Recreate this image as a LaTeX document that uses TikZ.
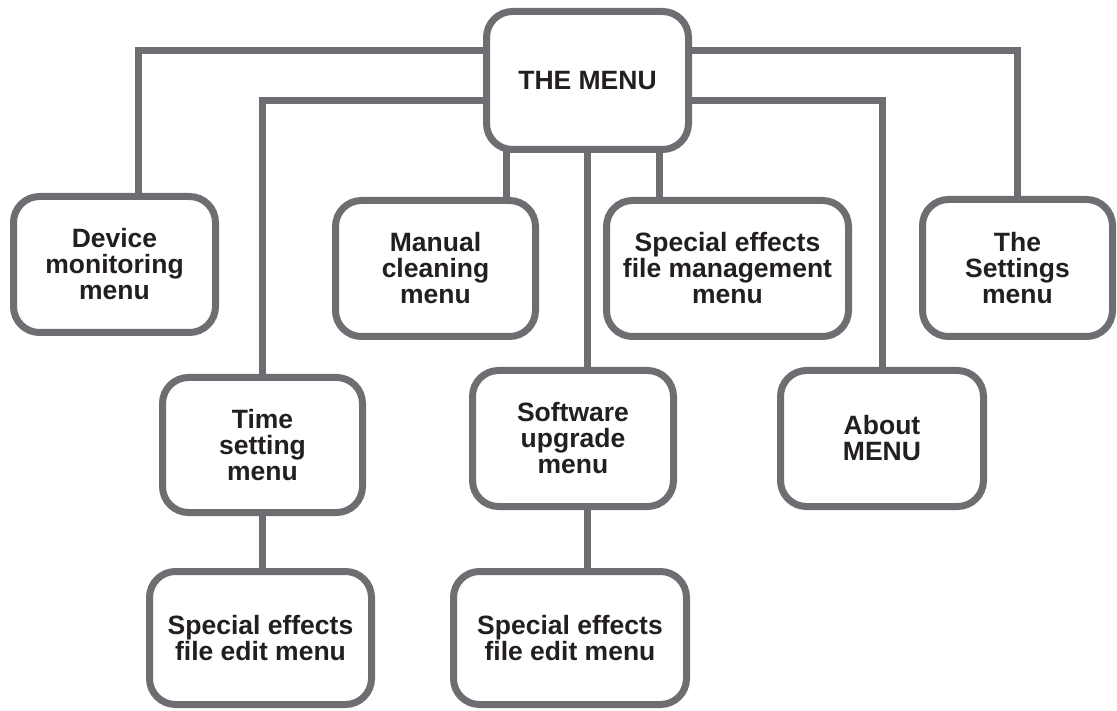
\documentclass[tikz,border=0pt]{standalone}
\usepackage{fontspec}
\setmainfont{Liberation Sans}
\usetikzlibrary{backgrounds}
\definecolor{menugray}{RGB}{109,110,113}
\definecolor{menutext}{RGB}{35,31,32}

\begin{document}
\begin{tikzpicture}[x=1pt,y=-1pt,line width=7pt,text=menutext,
  font=\bfseries\fontsize{26.5}{26}\selectfont,
  link/.style={draw=menugray,line width=7pt}]

\useasboundingbox (0,0) rectangle (1117,711);

\begin{scope}[every node/.style={draw=menugray,fill=white,rounded corners=26pt,align=center,inner sep=0pt,minimum height=136pt}]
  \node[minimum width=202pt,minimum height=138pt] (M) at (587.5,80.5) {THE MENU};
  \node[minimum width=202pt] (D) at (114.5,264.5) {Device\\monitoring\\menu};
  \node[minimum width=200pt] (C) at (435.5,268.5) {Manual\\cleaning\\menu};
  \node[minimum width=242pt] (F) at (727.5,268.5) {Special effects\\file management\\menu};
  \node[minimum width=190pt,minimum height=137pt] (S) at (1017.5,268) {The\\Settings\\menu};
  \node[minimum width=200pt,minimum height=135pt] (T) at (262.5,445) {Time\\setting\\menu};
  \node[minimum width=201pt] (U) at (573,438.5) {Software\\upgrade\\menu};
  \node[minimum width=203pt] (A) at (882,438.5) {About\\MENU};
  \node[minimum width=222pt,minimum height=133pt] (E1) at (260.5,638) {Special effects\\file edit menu};
  \node[minimum width=233pt,minimum height=133pt] (E2) at (570,638) {Special effects\\file edit menu};
\end{scope}

\begin{scope}[on background layer]
  \draw[link] ([yshift=29.5pt]M.center) -| ([xshift=23.5pt]D.center);
  \draw[link] ([yshift=-20.5pt]M.center) -| (T.center);
  \draw[link] ([xshift=70.5pt]C.center) |- (M.center);
  \draw[link] (M.center) -- (M.center |- U.center);
  \draw[link] ([xshift=-68.5pt]F.center) |- (M.center);
  \draw[link] ([yshift=-20.5pt]M.center) -| (A.center);
  \draw[link] ([yshift=29.5pt]M.center) -| (S.center);
  \draw[link] (T.center) -- (T.center |- E1.center);
  \draw[link] (M.center |- U.center) -- (M.center |- E2.center);
\end{scope}

\end{tikzpicture}
\end{document}
